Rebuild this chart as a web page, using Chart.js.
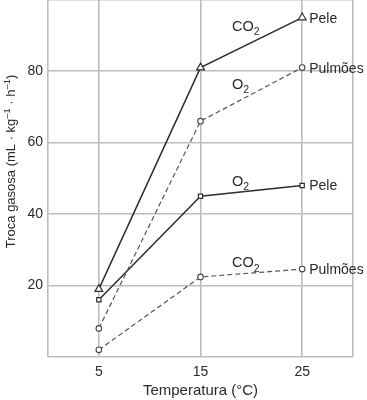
<!DOCTYPE html>
<html><head><meta charset="utf-8">
<script src="https://cdn.jsdelivr.net/npm/chart.js@4/dist/chart.umd.min.js"></script>
<style>html,body{margin:0;padding:0;background:#fff;overflow:hidden}#wrap{position:relative;width:367px;height:400px;overflow:hidden}#c{position:absolute;left:0;top:-6px}</style>
</head><body><div id="wrap"><canvas id="c" width="367" height="406"></canvas></div>
<script>
// Data
const temperatures = [5, 15, 25];
const co2Pele = [19, 81, 95];
const o2Pulmoes = [8, 66, 81];
const o2Pele = [16, 45, 48];
const co2Pulmoes = [2, 22.4, 24.6];
const xTickValues = [5, 15, 25];
const yTickValues = [20, 40, 60, 80];
const seriesOrgans = ['Pele', 'Pulmões', 'Pele', 'Pulmões'];
const seriesGases = ['CO', 'O', 'O', 'CO'];
// gas label anchors (data units)
const gasLabelX = [18.1, 18.1, 18.1, 18.1];
const gasLabelY = [91.3, 75.1, 47.9, 25.1];

const FONT = "'Liberation Sans', Arial, sans-serif";
const pts = v => temperatures.map((t, i) => ({x: t, y: v[i]}));

const solid = {borderColor: '#2e2e2e', borderWidth: 1.5, backgroundColor: '#fff', pointBorderColor: '#2e2e2e', pointBackgroundColor: '#fff', pointBorderWidth: 1.2, tension: 0};
const dashed = {borderColor: '#555', borderWidth: 1.2, borderDash: [5, 3], backgroundColor: '#fff', pointBorderColor: '#444', pointBackgroundColor: '#fff', pointBorderWidth: 1.1, tension: 0};

const datasets = [
  Object.assign({label: 'CO2 Pele', data: pts(co2Pele), pointStyle: 'triangle', pointRadius: 4.5}, solid),
  Object.assign({label: 'O2 Pulmões', data: pts(o2Pulmoes), pointStyle: 'circle', pointRadius: 2.8}, dashed),
  Object.assign({label: 'O2 Pele', data: pts(o2Pele), pointStyle: 'rect', pointRadius: 3}, solid),
  Object.assign({label: 'CO2 Pulmões', data: pts(co2Pulmoes), pointStyle: 'circle', pointRadius: 2.8}, dashed)
];

function drawRich(ctx, segs, x, y, size) {
  let cx = x;
  segs.forEach(s => {
    const sz = s.mode ? size * 0.72 : size;
    ctx.font = sz + 'px ' + FONT;
    const dy = s.mode === 'sup' ? -size * 0.38 : s.mode === 'sub' ? size * 0.3 : 0;
    ctx.fillText(s.t, cx, y + dy);
    cx += ctx.measureText(s.t).width;
  });
  return cx - x;
}
function richWidth(ctx, segs, size) {
  let w = 0;
  segs.forEach(s => { ctx.font = (s.mode ? size * 0.72 : size) + 'px ' + FONT; w += ctx.measureText(s.t).width; });
  return w;
}

const annot = {
  id: 'annot',
  afterDatasetsDraw(chart) {
    const ctx = chart.ctx, xs = chart.scales.x, ys = chart.scales.y;
    ctx.save();
    ctx.fillStyle = '#2a2a2a';
    ctx.textBaseline = 'alphabetic';
    ctx.textAlign = 'left';
    datasets.forEach((ds, i) => {
      const last = ds.data[ds.data.length - 1];
      ctx.font = '14px ' + FONT;
      ctx.fillText(seriesOrgans[i], xs.getPixelForValue(last.x) + 7, ys.getPixelForValue(last.y) + 5);
      drawRich(ctx, [{t: seriesGases[i]}, {t: '2', mode: 'sub'}], xs.getPixelForValue(gasLabelX[i]), ys.getPixelForValue(gasLabelY[i]), 14.5);
    });
    const segs = [{t: 'Troca gasosa (mL · kg'}, {t: '–1', mode: 'sup'}, {t: ' · h'}, {t: '–1', mode: 'sup'}, {t: ')'}];
    const w = richWidth(ctx, segs, 13);
    ctx.translate(14.5, 167.5);
    ctx.rotate(-Math.PI / 2);
    drawRich(ctx, segs, -w / 2, 0, 13);
    ctx.restore();
  }
};

new Chart(document.getElementById('c'), {
  type: 'line',
  data: {datasets},
  plugins: [annot],
  options: {
    responsive: false,
    animation: false,
    layout: {padding: {left: 0, top: 0, bottom: 0, right: 14}},
    plugins: {legend: {display: false}, tooltip: {enabled: false}},
    scales: {
      x: {
        type: 'linear', min: 0, max: 30,
        afterBuildTicks: s => { s.ticks = [0].concat(xTickValues, [30]).map(v => ({value: v})); },
        afterFit: s => { s.height = 43; s.paddingLeft = 0; s.paddingRight = 0; },
        grid: {color: '#bdbdbd', lineWidth: 1.6, drawTicks: false},
        border: {display: false},
        ticks: {padding: 7, maxRotation: 0, color: '#2a2a2a', font: {family: FONT, size: 14},
          callback: v => xTickValues.includes(v) ? String(v) : ''},
        title: {display: true, text: 'Temperatura (°C)', color: '#2a2a2a', font: {family: FONT, size: 15}, padding: {top: 3, bottom: 0}}
      },
      y: {
        type: 'linear', min: 0, max: 100,
        afterBuildTicks: s => { s.ticks = [0].concat(yTickValues, [100]).map(v => ({value: v})); },
        afterFit: s => { s.width = 48; s.paddingTop = 0; s.paddingBottom = 0; },
        grid: {color: '#bdbdbd', lineWidth: 1.6, drawTicks: false},
        border: {display: false},
        ticks: {padding: 5, color: '#2a2a2a', font: {family: FONT, size: 14},
          callback: v => yTickValues.includes(v) ? String(v) : ''}
      }
    }
  }
});
</script></body></html>
